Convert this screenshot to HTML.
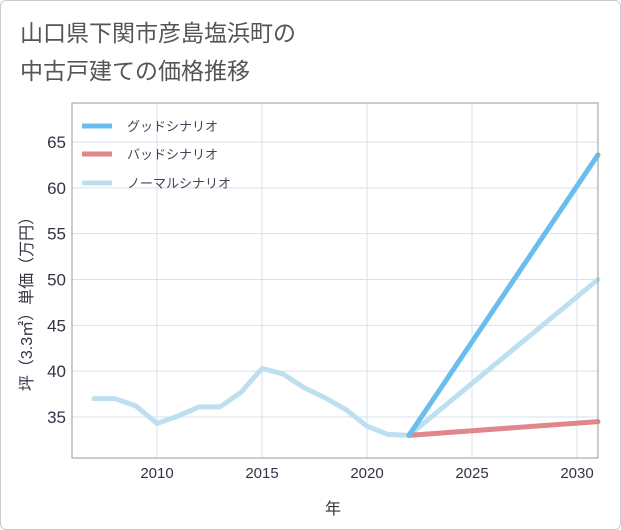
<!DOCTYPE html>
<html><head><meta charset="utf-8"><style>
body{margin:0;background:#fff;}
.frame{position:absolute;left:0;top:0;width:619px;height:528px;border:1px solid #ccc;border-radius:6px;background:#fff;}
text{font-family:"Liberation Sans","Noto Sans CJK JP",sans-serif;}
</style></head><body>
<div class="frame"></div>
<svg id="c" width="621" height="530" style="position:absolute;left:0;top:0">
<text x="20" y="41" font-size="23" fill="#555">山口県下関市彦島塩浜町の</text>
<text x="20" y="79" font-size="23" fill="#555">中古戸建ての価格推移</text>
<g id="grid"></g><g id="series"></g>
<rect x="72" y="103" width="526" height="355" fill="none" stroke="#999" stroke-width="1"/>
<text x="333" y="514" font-size="16" fill="#333" text-anchor="middle">年</text>
<text transform="translate(32,300) rotate(-90)" font-size="16" fill="#334" text-anchor="middle">坪（3.3㎡）単価（万円）</text>
<g id="legend"></g>
</svg>
<script>
const years=[2007,2008,2009,2010,2011,2012,2013,2014,2015,2016,2017,2018,2019,2020,2021,2022];
const normalHist=[37,37,36.2,34.3,35.1,36.1,36.1,37.7,40.3,39.7,38.2,37.1,35.8,34,33.1,33];
const projYears=[2022,2031];
const goodVals=[33,63.6];
const badVals=[33,34.5];
const normalProj=[33,50];
const xTicks=[2010,2015,2020,2025,2030];
const yTicks=[35,40,45,50,55,60,65];
const NS="http://www.w3.org/2000/svg";
const X=y=>157+(y-2010)*21;
const Y=v=>417-(v-35)*(275/30);
const svg=document.getElementById('c');
const grid=document.getElementById('grid'),ser=document.getElementById('series'),leg=document.getElementById('legend');
function mk(t,a,p){const e=document.createElementNS(NS,t);for(const k in a)e.setAttribute(k,a[k]);p.appendChild(e);return e;}
xTicks.forEach(t=>{
 const l=mk('line',{x1:X(t),x2:X(t),y1:103,y2:458,stroke:'#d5e2ee'},grid);
 
 
 const tx=mk('text',{x:X(t),y:478,'font-size':15,fill:'#334','text-anchor':'middle'},grid);tx.textContent=t;
 
 
});
yTicks.forEach(t=>{
 const l=mk('line',{x1:72,x2:598,y1:Y(t),y2:Y(t),stroke:'#d5e2ee'},grid);
 
 
 const tx=mk('text',{x:66,y:Y(t)+6,'font-size':17,fill:'#334','text-anchor':'end'},grid);tx.textContent=t;
 
 
});
function line(xs,vs,color,name){
 const p=mk('polyline',{points:xs.map((x,i)=>X(x)+','+Y(vs[i])).join(' '),fill:'none',stroke:color,'stroke-width':5,'stroke-linejoin':'round','stroke-linecap':'round'},ser);
 
 
}
line(years,normalHist,'#bde0f0','normal-history-line');
line(projYears,normalProj,'#bde0f0','normal-scenario-line');
line(projYears,badVals,'#e0868d','bad-scenario-line');
line(projYears,goodVals,'#6bbdf0','good-scenario-line');
const legItems=[['グッドシナリオ','#6bbdf0',126],['バッドシナリオ','#e0868d',154],['ノーマルシナリオ','#bde0f0',183]];
legItems.forEach(([t,c,y])=>{
 const g=mk('g',{},leg);
 
 
 mk('line',{x1:82,x2:112,y1:y,y2:y,stroke:c,'stroke-width':5},g);
 const tx=mk('text',{x:127,y:y+5,'font-size':13,fill:'#445'},g);tx.textContent=t;
});
</script>
</body></html>
